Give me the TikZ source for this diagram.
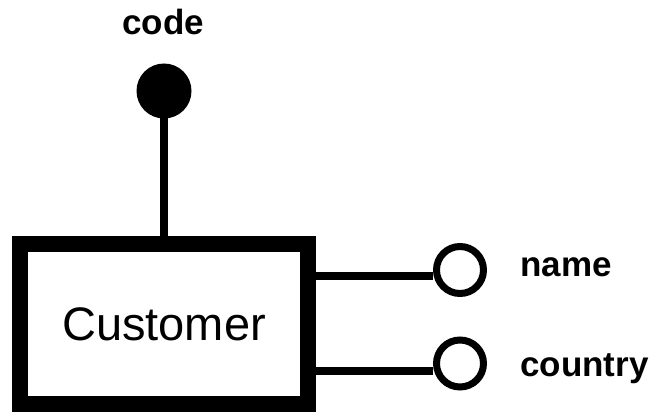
\documentclass[tikz,border=0pt]{standalone}
\usepackage{fontspec}
\setmainfont{Liberation Sans}
\begin{document}
\begin{tikzpicture}[x=1pt,y=-1pt,
  entity/.style={draw, line width=16pt, minimum width=288pt, minimum height=160pt, inner sep=0pt, font=\fontsize{47}{50}\selectfont},
  keyattr/.style={circle, fill=black, minimum size=55pt, inner sep=0pt},
  attr/.style={circle, draw, line width=7pt, minimum size=47pt, inner sep=0pt},
  conn/.style={line width=8pt},
  lbl/.style={font=\fontsize{35}{38}\selectfont\bfseries, inner sep=0pt}]
\useasboundingbox (0,0) rectangle (659,412);
\node[entity] (box) at (164,324) {Customer};
\node[keyattr] (k) at (164,91) {};
\node[attr] (c1) at (460,270) {};
\node[attr] (c2) at (460,363.5) {};
\node[lbl, anchor=base] (code) at (163,35) {code};
\node[lbl, anchor=base west] (name) at (520,276) {name};
\node[lbl, anchor=base west] (country) at (520,376) {country};
\draw[conn] (box.north) -- (k.center);
\draw[conn] ([yshift=-6pt]c1.west) -- ([yshift=-6pt]c1.west -| box.east);
\draw[conn] ([yshift=-7pt]c2.west) -- ([yshift=-7pt]c2.west -| box.east);
\end{tikzpicture}
\end{document}
